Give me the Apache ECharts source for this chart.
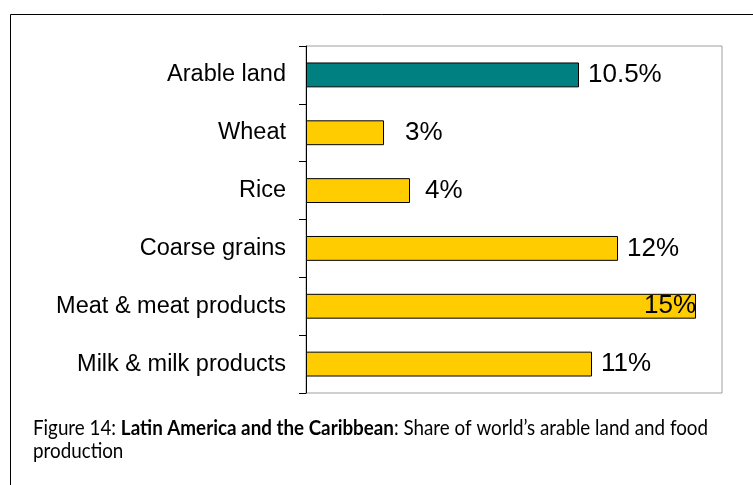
<!DOCTYPE html>
<html>
<head>
<meta charset="utf-8">
<script src="https://cdn.jsdelivr.net/npm/echarts@6/dist/echarts.min.js"></script>
<style>
  html, body { margin: 0; padding: 0; background: #fff; }
  #chart { width: 753px; height: 485px; }
</style>
</head>
<body>
<div id="chart"></div>
<script>
// Share of world totals held by Latin America and the Caribbean (%)
const categories = ['Arable land', 'Wheat', 'Rice', 'Coarse grains', 'Meat & meat products', 'Milk & milk products'];
const shares = [10.5, 3, 4, 12, 15, 11];
const barColors = ['#008080', '#FFCC00', '#FFCC00', '#FFCC00', '#FFCC00', '#FFCC00'];
const labelGaps = [9, 21, 15, 9, 0, 9];

// Caption pieces: [text, bold?]
const captionLine1 = [
  ['Figure 14: ', false],
  ['Latin America and the Caribbean', true],
  [': Share of world\u2019s arable land and food', false]
];
const captionLine2 = 'production';

const CAPTION_FONT = 'Lato';
const CAPTION_SIZE = 21;
const CAPTION_WIDTH = 675;

const chart = echarts.init(document.getElementById('chart'), null, { renderer: 'canvas' });

const seriesData = shares.map((v, i) => {
  const item = {
    value: v,
    itemStyle: { color: barColors[i], borderColor: '#000', borderWidth: 1 },
    label: { distance: labelGaps[i] }
  };
  // the longest bar carries its label just inside the end
  if (v === Math.max(...shares)) {
    item.label = { position: 'insideRight', distance: 0 };
  }
  return item;
});

// squeeze the caption horizontally so that its first line spans the set width
const ctx = document.createElement('canvas').getContext('2d');
let line1Width = 0;
captionLine1.forEach(([t, b]) => {
  ctx.font = (b ? 'bold ' : '') + CAPTION_SIZE + 'px ' + CAPTION_FONT;
  line1Width += ctx.measureText(t).width;
});
const captionScale = CAPTION_WIDTH / line1Width;

const captionText = captionLine1.map(([t, b]) => '{' + (b ? 'b' : 'n') + '|' + t + '}').join('') +
  '\n{n|' + captionLine2 + '}';

chart.setOption({
  animation: false,
  backgroundColor: '#fff',
  grid: {
    left: 306, right: 31, top: 46, bottom: 92,
    show: true, borderColor: '#a0a0a0', borderWidth: 1, backgroundColor: 'transparent'
  },
  xAxis: {
    type: 'value', min: 0, max: 16,
    show: false
  },
  yAxis: {
    type: 'category',
    data: categories,
    inverse: true,
    axisLine: { show: true, lineStyle: { color: '#000', width: 1 } },
    axisTick: { show: true, length: 7, lineStyle: { color: '#000' } },
    axisLabel: { fontFamily: 'Liberation Sans', fontSize: 23.5, color: '#000', margin: 20 }
  },
  series: [{
    type: 'bar',
    data: seriesData,
    barCategoryGap: '57%',
    label: {
      show: true,
      position: 'right',
      fontFamily: 'Liberation Sans',
      fontSize: 26,
      color: '#000',
      formatter: p => p.value + '%'
    }
  }],
  graphic: [
    {
      type: 'polyline',
      shape: { points: [[10.5, 485], [10.5, 14.5], [753, 14.5]] },
      style: { stroke: '#000', lineWidth: 1, fill: null }
    },
    {
      type: 'text',
      x: 33,
      y: 417,
      scaleX: captionScale,
      style: {
        text: captionText,
        rich: {
          n: { fontFamily: CAPTION_FONT, fontSize: CAPTION_SIZE, color: '#000', lineHeight: 23 },
          b: { fontFamily: CAPTION_FONT, fontSize: CAPTION_SIZE, fontWeight: 'bold', color: '#000', lineHeight: 23 }
        }
      }
    }
  ]
});
</script>
</body>
</html>
